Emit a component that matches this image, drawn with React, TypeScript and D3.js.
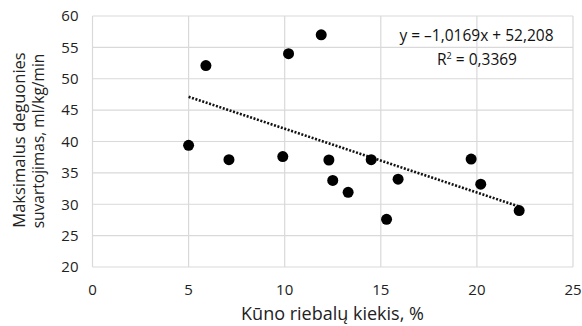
import * as d3 from 'd3';

const fatPct = [5.0, 5.9, 7.1, 9.9, 10.2, 11.9, 12.3, 12.5, 13.3, 14.5, 15.3, 15.9, 19.7, 20.2, 22.2];
const vo2max = [39.4, 52.1, 37.1, 37.6, 54.0, 57.0, 37.05, 33.8, 31.9, 37.1, 27.6, 34.0, 37.2, 33.2, 29.0];
const xTicks = [0, 5, 10, 15, 20, 25];
const yTicks = [20, 25, 30, 35, 40, 45, 50, 55, 60];
const slope = -1.0169;
const intercept = 52.208;
const eqLabel = 'y = –1,0169x + 52,208';
const r2Value = '0,3369';

export default function App() {
  const width = 582;
  const height = 326;
  const margin = { top: 16, right: 9, bottom: 59, left: 92.5 };
  const x = d3.scaleLinear().domain([0, 25]).range([margin.left, width - margin.right]);
  const y = d3.scaleLinear().domain([20, 60]).range([height - margin.bottom, margin.top]);

  const pts = fatPct.map((f, i) => ({ x: f, y: vo2max[i] }));
  const x0 = d3.min(fatPct) ?? 0;
  const x1 = d3.max(fatPct) ?? 0;
  const trend = d3.line<number>()
    .x((d) => x(d))
    .y((d) => y(slope * d + intercept));

  const font = 'Open Sans, sans-serif';
  const grid = '#d9d9d9';

  return (
    <svg width={width} height={height} style={{ position: 'absolute', left: 0, top: 0, background: '#fff' }}>
      {yTicks.map((t) => (
        <line key={`gy${t}`} x1={x(0)} x2={x(25)} y1={y(t)} y2={y(t)} stroke={grid} strokeWidth={1.2} />
      ))}
      {xTicks.map((t) => (
        <line key={`gx${t}`} x1={x(t)} x2={x(t)} y1={y(20)} y2={y(60)} stroke={grid} strokeWidth={1.2} />
      ))}
      {yTicks.map((t) => (
        <text key={`ty${t}`} x={x(0) - 14} y={y(t)} dy="0.35em" textAnchor="end"
          fontFamily={font} fontSize={15} fill="#222">{t}</text>
      ))}
      {xTicks.map((t) => (
        <text key={`tx${t}`} x={x(t)} y={y(20) + 23} dy="0.35em" textAnchor="middle"
          fontFamily={font} fontSize={15} fill="#222">{t}</text>
      ))}
      <path d={trend([x0, x1]) ?? ''} fill="none" stroke="#111" strokeWidth={2.6} strokeDasharray="2,1.6" />
      {pts.map((p, i) => (
        <circle key={i} cx={x(p.x)} cy={y(p.y)} r={5.5} fill="#000" />
      ))}
      <text x={476.5} y={36} dy="0.35em" textAnchor="middle" fontFamily={font} fontSize={15.5} fill="#111">{eqLabel}</text>
      <text x={477} y={60} dy="0.35em" textAnchor="middle" fontFamily={font} fontSize={15.5} fill="#111">
        R<tspan fontSize={9} dy="-6">2</tspan><tspan dy="6"> = {r2Value}</tspan>
      </text>
      <text x={332.5} y={314} dy="0.35em" textAnchor="middle" fontFamily={font} fontSize={18} fill="#222">Kūno riebalų kiekis, %</text>
      <text transform={`translate(19,140) rotate(-90)`} textAnchor="middle" dy="0.35em"
        fontFamily={font} fontSize={16.5} fill="#222">Maksimalus deguonies</text>
      <text transform={`translate(39,141) rotate(-90)`} textAnchor="middle" dy="0.35em"
        fontFamily={font} fontSize={15.5} fill="#222">suvartojimas, ml/kg/min</text>
    </svg>
  );
}
